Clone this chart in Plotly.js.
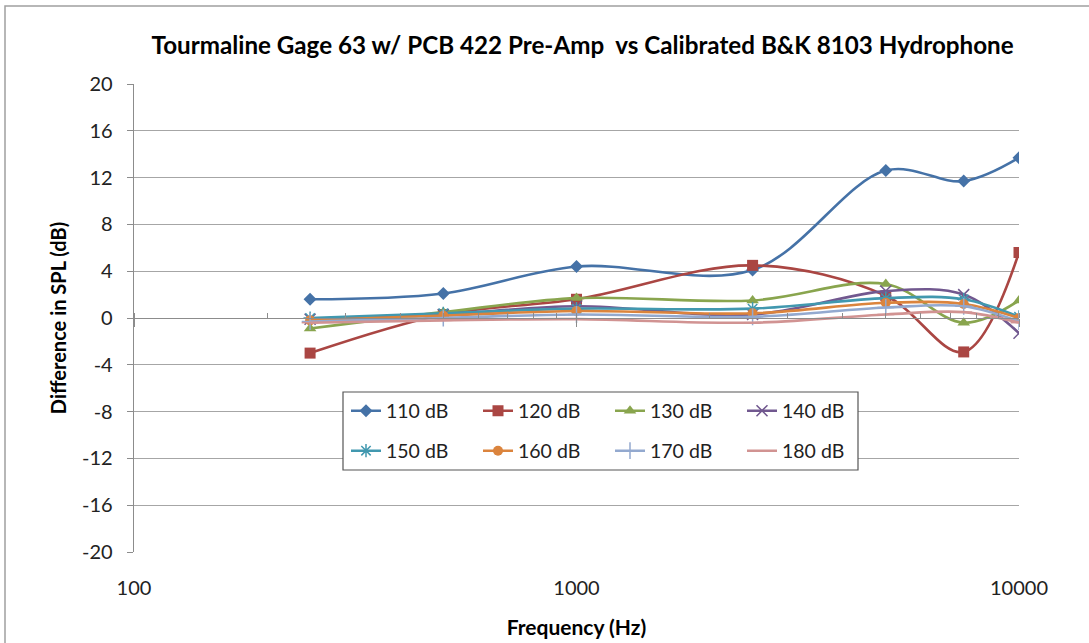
<!DOCTYPE html>
<html>
<head>
<meta charset="utf-8">
<script src="https://cdn.plot.ly/plotly-3.0.1.min.js"></script>
<style>
  html, body { margin: 0; padding: 0; background: #ffffff; }
  #chart { width: 1089px; height: 643px; }
</style>
</head>
<body>
<div id="chart"></div>
<script>
// Frequencies (Hz)
const frequencies = [250, 500, 1000, 2500, 5000, 7500, 10000];

// Difference in SPL (dB) per drive level
const seriesNames = ["110 dB", "120 dB", "130 dB", "140 dB", "150 dB", "160 dB", "170 dB", "180 dB"];
const db110 = [1.6, 2.1, 4.4, 4.1, 12.6, 11.7, 13.7];
const db120 = [-3.0, 0.3, 1.6, 4.5, 1.9, -2.9, 5.6];
const db130 = [-0.9, 0.5, 1.7, 1.5, 2.9, -0.4, 1.5];
const db140 = [-0.1, 0.3, 1.0, 0.3, 2.3, 2.0, -1.3];
const db150 = [0.0, 0.4, 0.8, 0.8, 1.7, 1.6, 0.1];
const db160 = [-0.2, 0.2, 0.6, 0.4, 1.3, 1.2, 0.0];
const db170 = [-0.3, 0.0, 0.3, 0.1, 0.9, 1.0, -0.3];
const db180 = [-0.4, -0.2, -0.1, -0.4, 0.3, 0.5, -0.4];
const seriesValues = [db110, db120, db130, db140, db150, db160, db170, db180];

const colors = ["#4572A7", "#AA4643", "#89A54E", "#71588F", "#4198AF", "#DB843D", "#93A9CF", "#D19392"];
const symbols = ["diamond", "square", "triangle-up", "x-thin-open", "asterisk-open", "circle", "cross-thin-open", "line-ew-open"];
const sizes = [10, 11, 11, 11, 11, 10, 12, 12];

const yTicks = [-20, -16, -12, -8, -4, 0, 4, 8, 12, 16, 20];
const xTicks = [100, 1000, 10000];

const FONT = "Lato, 'Open Sans', sans-serif";

const traces = seriesNames.map((name, i) => {
  const thin = symbols[i].endsWith("-open");
  return {
    type: "scatter",
    mode: "lines+markers",
    name: name,
    x: frequencies,
    y: seriesValues[i],
    xaxis: i === 7 ? "x2" : "x",
    legend: i < 4 ? "legend" : "legend2",
    line: { color: colors[i], width: 2.6, shape: "spline", smoothing: 1 },
    marker: {
      symbol: symbols[i],
      size: sizes[i],
      color: colors[i],
      line: { color: colors[i], width: thin ? 1.5 : 0 }
    }
  };
});

const px2x = p => (p - 134) / 885;
const px2y = p => (552 - p) / 468;

const legendBase = {
  orientation: "h",
  xanchor: "left",
  yanchor: "middle",
  bgcolor: "rgba(0,0,0,0)",
  borderwidth: 0,
  font: { family: FONT, size: 19.5, color: "#222" },
  entrywidth: 87,
  entrywidthmode: "pixels",
  itemwidth: 30,
  traceorder: "normal"
};

const layout = {
  width: 1089,
  height: 643,
  margin: { l: 134, r: 70, t: 84, b: 91 },
  paper_bgcolor: "#ffffff",
  plot_bgcolor: "#ffffff",
  showlegend: true,
  title: {
    text: "Tourmaline Gage 63 w/ PCB 422 Pre-Amp  vs Calibrated B&K 8103 Hydrophone",
    font: { family: FONT, size: 24.2, color: "#000", weight: "bold" },
    x: 0.535, xanchor: "center",
    y: 1 - 46 / 643, yanchor: "middle"
  },
  xaxis: {
    type: "log",
    range: [2, 4],
    tickvals: xTicks,
    ticktext: xTicks.map(String),
    showgrid: false,
    zeroline: false,
    showline: false,
    ticks: "",
    ticklabelstandoff: 22,
    tickfont: { family: FONT, size: 20, color: "#222" },
    title: {
      text: "Frequency (Hz)",
      font: { family: FONT, size: 21, color: "#000", weight: "bold" },
      standoff: 22
    },
    fixedrange: true
  },
  xaxis2: {
    type: "log",
    range: [2, 4],
    overlaying: "x",
    anchor: "free",
    position: 0.5,
    side: "bottom",
    dtick: 1,
    showticklabels: false,
    showgrid: false,
    zeroline: false,
    showline: true,
    linecolor: "#8c8c8c",
    linewidth: 1.3,
    ticks: "outside",
    ticklen: 8,
    tickcolor: "#8c8c8c",
    minor: { dtick: "D1", ticks: "inside", ticklen: 5, tickcolor: "#8c8c8c", showgrid: false },
    fixedrange: true
  },
  yaxis: {
    range: [-20, 20],
    tickvals: yTicks,
    ticktext: yTicks.map(String),
    showgrid: true,
    gridcolor: "#a6a6a6",
    gridwidth: 1,
    zeroline: false,
    showline: true,
    linecolor: "#8c8c8c",
    linewidth: 1.3,
    ticks: "outside",
    ticklen: 6,
    tickcolor: "#8c8c8c",
    ticklabelstandoff: 10,
    tickfont: { family: FONT, size: 20, color: "#222" },
    title: {
      text: "Difference in SPL (dB)",
      font: { family: FONT, size: 20, color: "#000", weight: "bold" },
      standoff: 10
    },
    fixedrange: true
  },
  legend: Object.assign({}, legendBase, { x: px2x(346), y: px2y(411) }),
  legend2: Object.assign({}, legendBase, { x: px2x(346), y: px2y(451) }),
  shapes: [
    {
      type: "rect", xref: "paper", yref: "paper", layer: "above",
      x0: px2x(343), x1: px2x(858), y0: px2y(470), y1: px2y(392),
      fillcolor: "#ffffff", line: { color: "#555555", width: 1.2 }
    },
    {
      type: "rect", xref: "paper", yref: "paper", layer: "below",
      x0: px2x(5), x1: px2x(1100), y0: px2y(660), y1: px2y(6),
      fillcolor: "rgba(0,0,0,0)", line: { color: "#a0a0a0", width: 1.5 }
    }
  ]
};

Plotly.newPlot("chart", traces, layout, { displayModeBar: false, staticPlot: true });
</script>
</body>
</html>
